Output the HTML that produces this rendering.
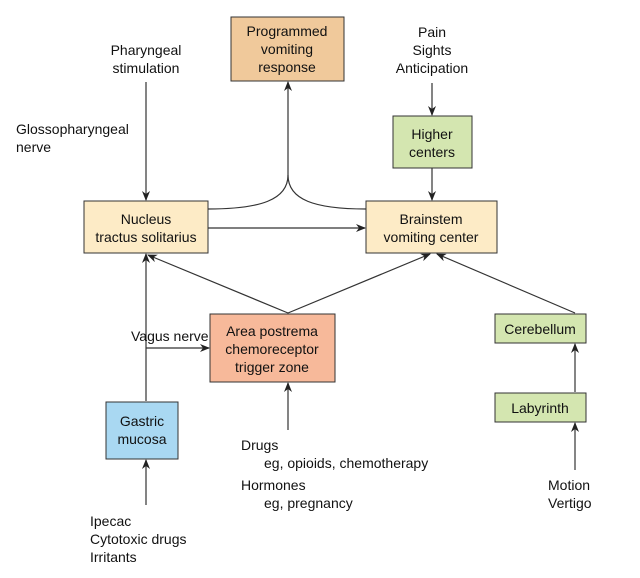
<!DOCTYPE html>
<html><head><style>
body{margin:0;background:#fff;}
svg{display:block;font-family:"Liberation Sans",Arial,sans-serif;font-size:14px;fill:#111;}
rect{stroke:#333;stroke-width:1}
</style></head><body>
<svg width="640" height="578" viewBox="0 0 640 578">
<defs><marker id="a" markerWidth="10" markerHeight="8" refX="9" refY="4" orient="auto" markerUnits="userSpaceOnUse"><path d="M0,0 L10,4 L0,8 L3,4z" fill="#222"/></marker></defs>
<rect x="231" y="17" width="113" height="64" fill="#f0c99b"/>
<rect x="393" y="116" width="79" height="52" fill="#d4e6b0"/>
<rect x="84" y="201" width="124" height="52" fill="#fdebc6"/>
<rect x="366" y="201" width="131" height="52" fill="#fdebc6"/>
<rect x="210" y="314" width="125" height="68" fill="#f7b99a"/>
<rect x="106" y="402" width="72" height="57" fill="#a9d8f2"/>
<rect x="495" y="314" width="91" height="29" fill="#d4e6b0"/>
<rect x="495" y="393" width="91" height="29" fill="#d4e6b0"/>
<g stroke="#333" stroke-width="1.2" fill="none" marker-end="url(#a)">
<line x1="146" y1="82" x2="146" y2="200"/>
<line x1="208" y1="228" x2="365" y2="228"/>
<line x1="432" y1="83" x2="432" y2="115"/>
<line x1="432" y1="168" x2="432" y2="200"/>
<path d="M208,209 C260,209 288,200 288,175 L288,82"/>
<path d="M366,209 C315,209 288,200 288,175" marker-end="none"/>
<line x1="288" y1="313" x2="148" y2="255"/>
<line x1="288" y1="313" x2="430" y2="254"/>
<line x1="575" y1="313" x2="437" y2="254"/>
<line x1="146" y1="401" x2="146" y2="254"/>
<line x1="146" y1="348" x2="209" y2="348"/>
<line x1="288" y1="430" x2="288" y2="383"/>
<line x1="146" y1="505" x2="146" y2="460"/>
<line x1="575" y1="392" x2="575" y2="344"/>
<line x1="575" y1="470" x2="575" y2="423"/>
</g>
<g text-anchor="middle">
<text x="287" y="36">Programmed</text><text x="287" y="54">vomiting</text><text x="287" y="72">response</text>
<text x="146" y="55">Pharyngeal</text><text x="146" y="73">stimulation</text>
<text x="432" y="37">Pain</text><text x="432" y="55">Sights</text><text x="432" y="73">Anticipation</text>
<text x="432" y="139">Higher</text><text x="432" y="157">centers</text>
<text x="146" y="224">Nucleus</text><text x="146" y="242">tractus solitarius</text>
<text x="431" y="224">Brainstem</text><text x="431" y="242">vomiting center</text>
<text x="272" y="336">Area postrema</text><text x="272" y="354">chemoreceptor</text><text x="272" y="372">trigger zone</text>
<text x="142" y="426">Gastric</text><text x="142" y="444">mucosa</text>
<text x="540" y="334">Cerebellum</text><text x="540" y="413">Labyrinth</text>
</g>
<text x="16" y="134">Glossopharyngeal</text><text x="16" y="152">nerve</text>
<text x="131" y="341">Vagus nerve</text>
<text x="241" y="450">Drugs</text><text x="264" y="468">eg, opioids, chemotherapy</text>
<text x="241" y="490">Hormones</text><text x="264" y="508">eg, pregnancy</text>
<text x="90" y="526">Ipecac</text><text x="90" y="544">Cytotoxic drugs</text><text x="90" y="562">Irritants</text>
<text x="548" y="490">Motion</text><text x="548" y="508">Vertigo</text>
</svg>
</body></html>
